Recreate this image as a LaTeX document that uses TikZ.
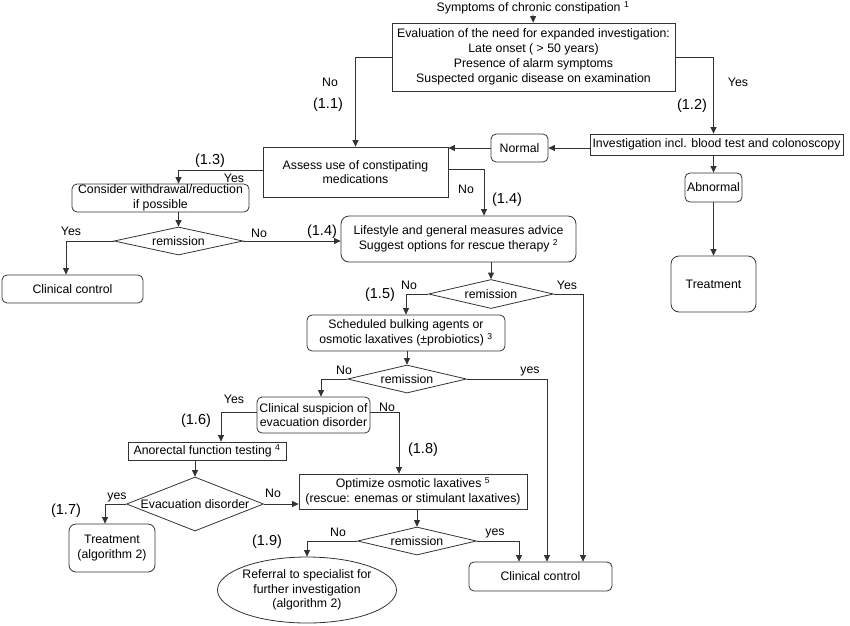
\documentclass[tikz,border=0pt]{standalone}
\usepackage{fontspec}
\setmainfont{Liberation Sans}
\usetikzlibrary{arrows.meta,shapes.geometric,shadows}
\begin{document}
\begin{tikzpicture}[x=1pt,y=-1pt,
  every node/.style={font=\fontsize{12.3}{14.8}\selectfont, inner sep=0pt, align=center},
  box/.style={draw=black!80, line width=0.8pt, rectangle, fill=white},
  sbox/.style={box, drop shadow={shadow xshift=1.2pt, shadow yshift=-1.2pt, opacity=0.3}},
  rbox/.style={box, rounded corners=5pt},
  dec/.style={draw=black!80, line width=0.8pt, diamond, fill=white},
  elli/.style={draw=black!80, line width=0.8pt, ellipse, fill=white},
  lab/.style={font=\fontsize{12.3}{14}\selectfont},
  num/.style={font=\fontsize{14.5}{16}\selectfont},
  arr/.style={draw=black!80, line width=0.8pt, -{Triangle[length=6.5pt,width=6pt]}}
]
\useasboundingbox (0,0) rectangle (850,625);

% ---- nodes ----
\node (title) at (533,8) {Symptoms of chronic constipation \textsuperscript{1}};
\node[sbox, minimum width=283pt, minimum height=68pt, font=\fontsize{12.3}{15}\selectfont] (eval) at (533.5,57)
  {Evaluation of the need for expanded investigation:\\Late onset ( > 50 years)\\Presence of alarm symptoms\\Suspected organic disease on examination};
\node[sbox, minimum width=253pt, minimum height=21pt] (inv) at (716.5,144.5) {Investigation incl. blood test and colonoscopy};
\node[rbox, minimum width=57pt, minimum height=28pt] (normal) at (519.5,148) {Normal};
\node[rbox, minimum width=57pt, minimum height=29pt] (abn) at (713.5,187.5) {Abnormal};
\node[rbox, rounded corners=8pt, minimum width=85pt, minimum height=56pt] (treat) at (713.5,284) {Treatment};
\node[sbox, minimum width=185pt, minimum height=50pt] (assess) at (355.5,172) {Assess use of constipating\\medications};
\node[rbox, rounded corners=8pt, minimum width=235pt, minimum height=46pt] (life) at (458.5,239)
  {Lifestyle and general measures advice\\Suggest options for rescue therapy \textsuperscript{2}};
\node[rbox, minimum width=177pt, minimum height=28pt] (consider) at (160.5,198) {Consider withdrawal/reduction\\if possible};
\node[dec, minimum width=129pt, minimum height=28pt] (dL) at (178.5,241) {};
\node at (dL) {remission};
\node[rbox, minimum width=141pt, minimum height=28pt] (ccL) at (72.5,289) {Clinical control};
\node[dec, minimum width=125pt, minimum height=29pt] (d1) at (491,294) {};
\node at (d1) {remission};
\node[rbox, minimum width=198pt, minimum height=36pt] (sched) at (406,333)
  {Scheduled bulking agents or\\osmotic laxatives (±probiotics) \textsuperscript{3}};
\node[dec, minimum width=119pt, minimum height=28pt] (d2) at (407,379) {};
\node at (d2) {remission};
\node[rbox, minimum width=113pt, minimum height=36pt] (susp) at (313.5,415) {Clinical suspicion of\\evacuation disorder};
\node[sbox, minimum width=158pt, minimum height=18pt] (anor) at (207,451) {Anorectal function testing \textsuperscript{4}};
\node[dec, minimum width=137pt, minimum height=54pt] (evac) at (195,504) {};
\node at (evac) {Evacuation disorder};
\node[rbox, rounded corners=7pt, minimum width=86pt, minimum height=48pt] (treat2) at (112,548) {Treatment\\(algorithm 2)};
\node[sbox, minimum width=228pt, minimum height=35pt] (opt) at (413,491.5)
  {Optimize osmotic laxatives \textsuperscript{5}\\(rescue: enemas or stimulant laxatives)};
\node[dec, minimum width=119pt, minimum height=28pt] (d3) at (417,541) {};
\node at (d3) {remission};
\node[elli, minimum width=179pt, minimum height=66pt] (ell) at (307,590) {};
\node at (ell) {Referral to specialist for\\further investigation\\(algorithm 2)};
\node[rbox, minimum width=143pt, minimum height=29pt] (cc2) at (540.5,576.5) {Clinical control};

% ---- connectors ----
\draw[arr] (title) -- (eval);
\draw[arr] (eval.west) -| (assess.north);
\draw[arr] (eval.east) -| (inv.north -| abn.north);
\draw[arr] (normal.east -| inv.west) -- (normal.east);
\draw[arr] (normal.west) -- (normal.west -| assess.east);
\draw[arr] (inv.south -| abn.north) -- (abn.north);
\draw[arr] (abn.south) -- (treat.north);
\draw[arr] (assess.east |- 0,169) -| (life.north -| 484,0);
\draw[arr] (assess.west |- 0,170) -| (consider.north -| dL.north);
\draw[arr] (consider.south -| dL.north) -- (dL.north);
\draw[arr] (dL.west) -| (ccL.north -| 66,0);
\draw[arr] (dL.east) -- (dL.east -| life.west);
\draw[arr] (life.south -| d1.north) -- (d1.north);
\draw[arr] (d1.west) -| (sched.north);
\draw[arr] (d1.east) -| (cc2.north -| 583,0);
\draw[arr] (sched.south -| d2.north) -- (d2.north);
\draw[arr] (d2.west) -| (susp.north -| 321,0);
\draw[arr] (d2.east) -| (cc2.north -| 547,0);
\draw[arr] (susp.west |- 0,412) -| (anor.north -| 221,0);
\draw[arr] (susp.east |- 0,412) -| (opt.north -| 399,0);
\draw[arr] (anor.south -| evac.north) -- (evac.north);
\draw[arr] (evac.east) -- (evac.east -| opt.west);
\draw[arr] (evac.west) -| (treat2.north -| 105,0);
\draw[arr] (opt.south -| d3.north) -- (d3.north);
\draw[arr] (d3.west) -| (ell.north);
\draw[arr] (d3.east) -| (cc2.north -| 519,0);

% ---- labels ----
\node[lab] at (330,82) {No};
\node[num] at (328,105) {(1.1)};
\node[lab] at (738,82) {Yes};
\node[num] at (692,106) {(1.2)};
\node[num] at (210,161) {(1.3)};
\node[lab] at (234,178) {Yes};
\node[lab] at (466,189) {No};
\node[num] at (507,200) {(1.4)};
\node[lab] at (71,231) {Yes};
\node[lab] at (259,233) {No};
\node[num] at (322,232) {(1.4)};
\node[lab] at (409,285) {No};
\node[num] at (380,295) {(1.5)};
\node[lab] at (567,285) {Yes};
\node[lab] at (344,370) {No};
\node[lab] at (530,371) {yes};
\node[lab] at (234,399) {Yes};
\node[num] at (196,421) {(1.6)};
\node[lab] at (387,407) {No};
\node[num] at (423,450) {(1.8)};
\node[lab] at (117,497) {yes};
\node[num] at (66,511) {(1.7)};
\node[lab] at (273,493) {No};
\node[lab] at (338,532) {No};
\node[num] at (267,542) {(1.9)};
\node[lab] at (495,533) {yes};
\end{tikzpicture}
\end{document}
